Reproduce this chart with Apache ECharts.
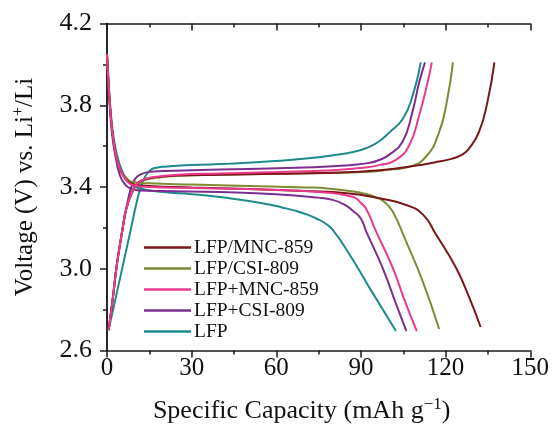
<!DOCTYPE html>
<html><head><meta charset="utf-8">
<script src="https://cdn.jsdelivr.net/npm/echarts@6/dist/echarts.min.js"></script>
<style>html,body{margin:0;padding:0;background:#fff}#c{width:552px;height:429px}</style>
</head><body><div id="c"></div>
<script>
// Legend names
const names = ['LFP/MNC-859','LFP/CSI-809','LFP+MNC-859','LFP+CSI-809','LFP'];
const colors = {'LFP/MNC-859':'#7a1518','LFP/CSI-809':'#7f8a33','LFP+MNC-859':'#ea3a8c','LFP+CSI-809':'#7b2e8f','LFP':'#1d8a8c'};

// Tick labels
const xTicks = [0,30,60,90,120,150];
const yTicks = [2.6,3.0,3.4,3.8,4.2];

// Charge curves (capacity, voltage)
const mncChargeX = [0.6,2.1,3.5,5.4,6.9,9.2,11,12.7,15,18.6,25,40,60,80,93,105,110.6,116,122.4,126,128.3,131.8,134.8,137.3];
const mncChargeY = [2.70,2.86,3.02,3.185,3.297,3.386,3.42,3.434,3.443,3.45,3.456,3.46,3.465,3.47,3.478,3.495,3.507,3.52,3.539,3.56,3.588,3.668,3.814,4.01];
const csiChargeX = [0.6,2.1,3.5,5.4,6.9,9.2,11,12.7,15,18.6,25,40,60,80,92.9,100,107.1,113,117.7,120.6,122.6];
const csiChargeY = [2.70,2.86,3.02,3.185,3.297,3.38,3.415,3.43,3.44,3.447,3.455,3.46,3.465,3.47,3.475,3.485,3.499,3.548,3.668,3.83,4.01];
const pMncChargeX = [0.6,2.1,3.5,5.4,6.9,9.2,11,12.7,15,18.6,25,40,60,80,90,96.5,102.4,107.1,110.6,113.6,115.1];
const pMncChargeY = [2.70,2.86,3.02,3.185,3.297,3.386,3.42,3.434,3.445,3.452,3.46,3.466,3.473,3.482,3.493,3.507,3.533,3.604,3.749,3.91,4.01];
const pCsiChargeX = [0.6,2.1,3.5,5.4,6.9,8.6,10,11.6,15,20,30,50,70,80,87,92.9,96.5,100,104.7,108.2,110.6,112.7];
const pCsiChargeY = [2.70,2.86,3.02,3.185,3.30,3.40,3.44,3.459,3.474,3.478,3.482,3.488,3.495,3.502,3.508,3.518,3.532,3.557,3.62,3.765,3.91,4.01];
const lfpChargeX = [0.5,2,4,6,8,10.6,12,13.5,15.1,17,21,26,40,61,75,85,89,92.9,96.5,100,104.8,108.3,111.2];
const lfpChargeY = [2.70,2.79,2.915,3.04,3.165,3.33,3.40,3.45,3.48,3.493,3.50,3.505,3.512,3.528,3.545,3.565,3.577,3.596,3.624,3.666,3.733,3.846,4.01];

// Discharge curves (capacity, voltage)
const mncDisX = [0,0.8,1.8,3,4.5,6.5,9,15,30,50,70,85,96.5,106,112,116.5,123.6,128.3,132.4];
const mncDisY = [4.05,3.85,3.68,3.57,3.49,3.44,3.415,3.405,3.398,3.39,3.38,3.37,3.345,3.312,3.265,3.17,3.007,2.862,2.715];
const csiDisX = [0,0.8,1.8,3,4.5,6.5,9,15,30,50,70,79,86,91,95,98,101.2,105.9,111.8,117.7];
const csiDisY = [4.05,3.85,3.68,3.57,3.49,3.45,3.425,3.418,3.412,3.405,3.398,3.392,3.38,3.368,3.352,3.33,3.281,3.136,2.942,2.705];
const pMncDisX = [0,0.8,1.8,3,4.5,6.5,9,15,30,50,70,80,86,88.2,90,91.8,95.3,101.2,105.9,109.8];
const pMncDisY = [4.05,3.85,3.68,3.57,3.49,3.44,3.41,3.40,3.395,3.39,3.38,3.37,3.355,3.345,3.322,3.295,3.184,3.007,2.829,2.695];
const pCsiDisX = [0,0.8,1.8,3,4.5,6.5,9,12,20,40,60,75,80,84,87,90,91.8,97.6,102.4,106.1];
const pCsiDisY = [4.05,3.84,3.66,3.55,3.46,3.41,3.39,3.383,3.38,3.375,3.365,3.348,3.337,3.315,3.285,3.245,3.184,3.007,2.829,2.695];
const lfpDisX = [0,0.8,1.8,3,4.5,6,8,11,20,30,43,55,62,67,71,74,77,80,85.9,92.9,102.4];
const lfpDisY = [4.05,3.86,3.70,3.59,3.51,3.46,3.42,3.395,3.375,3.365,3.346,3.321,3.30,3.283,3.265,3.247,3.225,3.19,3.071,2.91,2.695];

const curves = [
  ['LFP', lfpChargeX, lfpChargeY], ['LFP', lfpDisX, lfpDisY],
  ['LFP+CSI-809', pCsiChargeX, pCsiChargeY], ['LFP+CSI-809', pCsiDisX, pCsiDisY],
  ['LFP/CSI-809', csiChargeX, csiChargeY], ['LFP/CSI-809', csiDisX, csiDisY],
  ['LFP/MNC-859', mncChargeX, mncChargeY], ['LFP/MNC-859', mncDisX, mncDisY],
  ['LFP+MNC-859', pMncChargeX, pMncChargeY], ['LFP+MNC-859', pMncDisX, pMncDisY]
];

const FONT = '"Liberation Serif","Times New Roman",serif';
const series = curves.map(([n, xs, ys]) => ({
  name: n, type: 'line', showSymbol: false, symbol: 'none',
  smooth: 0.5,
  lineStyle: {width: 2, color: colors[n]}, itemStyle: {color: colors[n]},
  data: xs.map((x, i) => [x, ys[i]])
}));

const tickStyle = {width: 1.5, color: '#1a1a1a'};
const axisLine = {show: true, lineStyle: {color: '#1a1a1a', width: 1.5}};
const chart = echarts.init(document.getElementById('c'), null, {renderer: 'canvas'});
chart.setOption({
  animation: false,
  grid: {left: 107, right: 20.5, top: 23.5, bottom: 75, containLabel: false},
  legend: {
    data: names, orient: 'vertical', left: 144, top: 237, icon: 'rect', padding: 0,
    itemWidth: 47, itemHeight: 2.5, itemGap: 0,
    textStyle: {fontFamily: FONT, fontSize: 19.5, color: '#111', lineHeight: 21, padding: [0,0,0,-2]}
  },
  xAxis: [{
    type: 'value', min: 0, max: 150, interval: 30,
    axisLine, splitLine: {show: false},
    axisTick: {show: true, inside: false, length: 7, lineStyle: tickStyle},
    minorTick: {show: true, splitNumber: 2, length: 4, lineStyle: tickStyle},
    axisLabel: {fontFamily: FONT, fontSize: 25, color: '#111', margin: 5, formatter: v => xTicks.includes(v) ? String(v) : ''},
    name: 'Specific Capacity (mAh g{sup|−1})', nameLocation: 'middle', nameGap: 46,
    nameTextStyle: {fontFamily: FONT, fontSize: 26, color: '#111', padding: [0, 34, 0, 0],
      rich: {sup: {fontFamily: FONT, fontSize: 17, color: '#111', verticalAlign: 'top', padding: [0,0,12,0]}}}
  }, {
    type: 'value', min: 0, max: 150, interval: 30, position: 'top',
    axisLine, splitLine: {show: false}, axisLabel: {show: false},
    axisTick: {show: true, inside: true, length: 7, lineStyle: tickStyle},
    minorTick: {show: true, splitNumber: 2, length: 4, lineStyle: tickStyle}
  }],
  yAxis: [{
    type: 'value', min: 2.6, max: 4.2, interval: 0.4,
    axisLine, splitLine: {show: false},
    axisTick: {show: true, inside: false, length: 7, lineStyle: tickStyle},
    minorTick: {show: true, splitNumber: 2, length: 4, lineStyle: tickStyle},
    axisLabel: {fontFamily: FONT, fontSize: 26, color: '#111', margin: 15, formatter: v => (+v).toFixed(1)},
    name: 'Voltage (V) vs. Li{sup|+}/Li', nameLocation: 'middle', nameGap: 68,
    nameTextStyle: {fontFamily: FONT, fontSize: 25, color: '#111',
      rich: {sup: {fontFamily: FONT, fontSize: 16, color: '#111', verticalAlign: 'top', padding: [0,0,12,0]}}}
  }, {
    type: 'value', min: 2.6, max: 4.2, interval: 0.4, position: 'right',
    axisLine, splitLine: {show: false}, axisLabel: {show: false},
    axisTick: {show: true, inside: true, length: 7, lineStyle: tickStyle},
    minorTick: {show: true, splitNumber: 2, length: 4, lineStyle: tickStyle}
  }],
  series
});
</script></body></html>
